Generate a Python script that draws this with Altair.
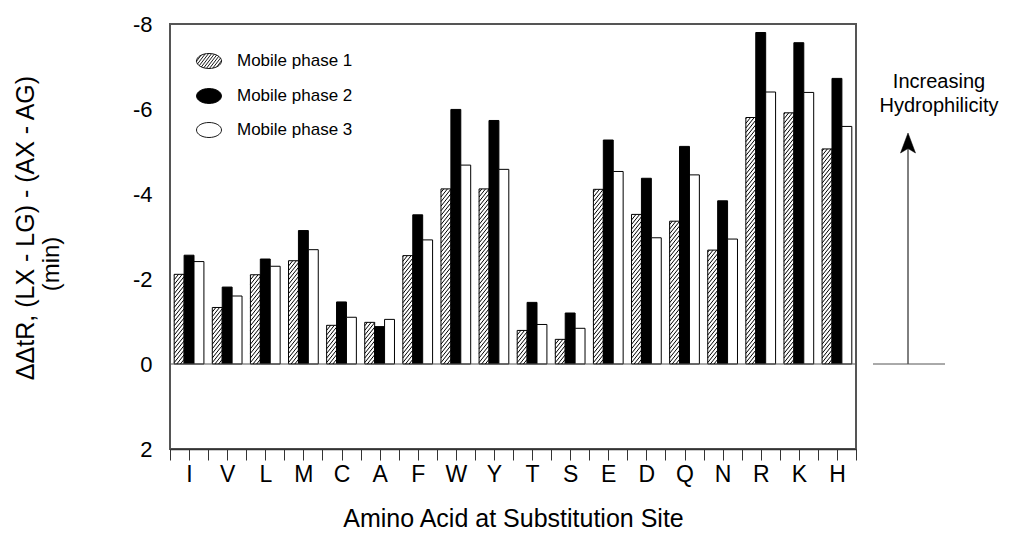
import json
import numpy as np
import pandas as pd
import altair as alt

# ---- data ----
amino = ["I", "V", "L", "M", "C", "A", "F", "W", "Y", "T", "S", "E", "D", "Q", "N", "R", "K", "H"]
series = ["Mobile phase 1", "Mobile phase 2", "Mobile phase 3"]
mp1 = [-2.11, -1.33, -2.10, -2.43, -0.91, -0.98, -2.55, -4.12, -4.12, -0.79, -0.58, -4.11, -3.52, -3.36, -2.68, -5.80, -5.91, -5.06]
mp2 = [-2.56, -1.81, -2.47, -3.14, -1.46, -0.88, -3.51, -5.99, -5.73, -1.45, -1.20, -5.27, -4.37, -5.12, -3.84, -7.80, -7.56, -6.72]
mp3 = [-2.41, -1.60, -2.30, -2.69, -1.10, -1.05, -2.92, -4.68, -4.58, -0.93, -0.84, -4.53, -2.97, -4.45, -2.94, -6.40, -6.39, -5.59]
y_ticks = [-8, -6, -4, -2, 0, 2]

rows = []
for s, vals in enumerate([mp1, mp2, mp3]):
    for i, a in enumerate(amino):
        rows.append({"aa": a, "idx": i, "s": s, "series": series[s], "value": vals[i]})
df = pd.DataFrame(rows)

# ---- layout ----
W, H = 686, 425
PXX = W / 18.0
PXY = H / 10.0
BAR = 0.26
PAD = 0.11
BW = BAR * PXX
K = 1.25      # hatch slope (px/px)
STEP = 4.6    # hatch spacing (px, vertical)
FONT = "Liberation Sans"

xscale = alt.Scale(domain=[0, 18], nice=False, zero=False)
yscale = alt.Scale(domain=[-8, 2], reverse=True, nice=False, zero=False)

x_ticks = [i * 0.5 for i in range(37)]
label_expr = "datum.value % 1 == 0.5 ? " + json.dumps(amino) + "[floor(datum.value)] : ''"

xaxis = alt.Axis(
    values=x_ticks, labelExpr=label_expr, labelOverlap=False, labelFlush=False,
    tickSize=11, tickColor="#333", tickWidth=1, domainColor="#333", domainWidth=1.5,
    labelFontSize=23, labelPadding=3, labelColor="black", labelFont=FONT,
    title="Amino Acid at Substitution Site", titleFontSize=25, titleFontWeight="normal",
    titlePadding=20, titleColor="black", titleFont=FONT, grid=False,
)
yaxis = alt.Axis(
    values=y_ticks, labelExpr="'' + datum.value", tickSize=0, domain=False, grid=False,
    title="", labelFontSize=22, labelPadding=18, labelColor="black", labelFont=FONT,
)

base = alt.Chart(df).transform_calculate(
    x0=f"datum.idx + {PAD} + datum.s * {BAR}",
    x1=f"datum.idx + {PAD} + (datum.s + 1) * {BAR}",
)

bars = base.mark_bar(stroke="black", strokeWidth=1).encode(
    x=alt.X("x0:Q", scale=xscale, axis=xaxis),
    x2="x1:Q",
    y=alt.Y("value:Q", scale=yscale, axis=yaxis),
    y2=alt.datum(0),
    fill=alt.Fill("series:N", scale=alt.Scale(domain=series, range=["white", "black", "white"]), legend=None),
)

hatch = (
    base.transform_filter("datum.s == 0")
    .transform_calculate(
        Hp=f"abs(datum.value) * {PXY}",
        c=f"sequence({-K * BW}, abs(datum.value) * {PXY}, {STEP})",
    )
    .transform_flatten(["c"])
    .transform_calculate(
        xa=f"max(0, -datum.c / {K})",
        xb=f"min({BW}, (datum.Hp - datum.c) / {K})",
    )
    .transform_filter("datum.xa < datum.xb")
    .transform_calculate(
        hx=f"datum.x0 + datum.xa / {PXX}",
        hx2=f"datum.x0 + datum.xb / {PXX}",
        hy=f"-(datum.c + {K} * datum.xa) / {PXY}",
        hy2=f"-(datum.c + {K} * datum.xb) / {PXY}",
    )
    .mark_rule(color="black", strokeWidth=1)
    .encode(
        x=alt.X("hx:Q", scale=xscale, axis=xaxis),
        x2="hx2:Q",
        y=alt.Y("hy:Q", scale=yscale, axis=yaxis),
        y2="hy2:Q",
    )
)

zero = alt.Chart(pd.DataFrame({"z": [0]})).mark_rule(color="#555", strokeWidth=1).encode(
    y=alt.Y("z:Q", scale=yscale, axis=yaxis)
)

# ---- legend (manual) ----
ell = "M-1,0A1,0.6 0 1,1 1,0A1,0.6 0 1,1 -1,0Z"
segs = []
kk, ry = 1.3, 0.6
for c in np.arange(-1.6, 1.61, 0.32):
    a = 1 + kk * kk / (ry * ry)
    b = -2 * kk * c / (ry * ry)
    cc = c * c / (ry * ry) - 1
    disc = b * b - 4 * a * cc
    if disc <= 0:
        continue
    xa_ = (-b - np.sqrt(disc)) / (2 * a)
    xb_ = (-b + np.sqrt(disc)) / (2 * a)
    segs.append(f"M{xa_:.3f},{c - kk * xa_:.3f}L{xb_:.3f},{c - kk * xb_:.3f}")
hatch_ell = ell + "".join(segs)

leg_y = [37, 72, 106]
leg_shapes = [hatch_ell, ell, ell]
leg_fill = ["white", "black", "white"]
legend_layers = []
for i, name in enumerate(series):
    d = pd.DataFrame({"label": [name]})
    legend_layers.append(
        alt.Chart(d).mark_point(shape=leg_shapes[i], size=625, filled=True, fill=leg_fill[i],
                                stroke="black", strokeWidth=0.9, opacity=1)
        .encode(x=alt.value(39), y=alt.value(leg_y[i]))
    )
    legend_layers.append(
        alt.Chart(d).mark_text(align="left", baseline="middle", fontSize=17, font=FONT, color="black")
        .encode(text="label:N", x=alt.value(67), y=alt.value(leg_y[i]))
    )

# ---- y title (two lines, as in the figure) ----
yt1 = alt.Chart(pd.DataFrame({"t": ["ΔΔtR, (LX - LG) - (AX - AG)"]})).mark_text(
    angle=270, align="center", baseline="middle", fontSize=25, font=FONT, color="black"
).encode(text="t:N", x=alt.value(-144), y=alt.value(204))
yt2 = alt.Chart(pd.DataFrame({"t": ["(min)"]})).mark_text(
    angle=270, align="center", baseline="middle", fontSize=24, font=FONT, color="black"
).encode(text="t:N", x=alt.value(-118), y=alt.value(240))

# ---- right-hand annotation ----
ann_base = alt.Chart(pd.DataFrame({"k": [0]}))
arrow_line = ann_base.mark_rule(color="black", strokeWidth=1).encode(
    x=alt.value(738), y=alt.value(340), y2=alt.value(118)
)
arrow_head = ann_base.mark_point(
    shape="M0,-1L0.75,1L0,0.55L-0.75,1Z", size=400, filled=True, fill="black", stroke="black",
    strokeWidth=0.5, opacity=1
).encode(x=alt.value(738), y=alt.value(119))
base_line = ann_base.mark_rule(color="#555", strokeWidth=1).encode(
    x=alt.value(703), x2=alt.value(775), y=alt.value(340)
)
ann_t1 = alt.Chart(pd.DataFrame({"t": ["Increasing"]})).mark_text(
    align="center", baseline="alphabetic", fontSize=20, font=FONT, color="black"
).encode(text="t:N", x=alt.value(769), y=alt.value(64))
ann_t2 = alt.Chart(pd.DataFrame({"t": ["Hydrophilicity"]})).mark_text(
    align="center", baseline="alphabetic", fontSize=20, font=FONT, color="black"
).encode(text="t:N", x=alt.value(769), y=alt.value(88))

chart = alt.layer(
    bars, zero, hatch, *legend_layers, yt1, yt2, arrow_line, arrow_head, base_line, ann_t1, ann_t2
).properties(
    width=W, height=H,
    autosize=alt.AutoSizeParams(type="none"),
    padding={"left": 170, "top": 24, "right": 160, "bottom": 90},
    background="white",
).configure(font=FONT).configure_view(
    stroke="#555", strokeWidth=2
)

chart.save("out.html", embed_options={"renderer": "svg", "actions": False})
